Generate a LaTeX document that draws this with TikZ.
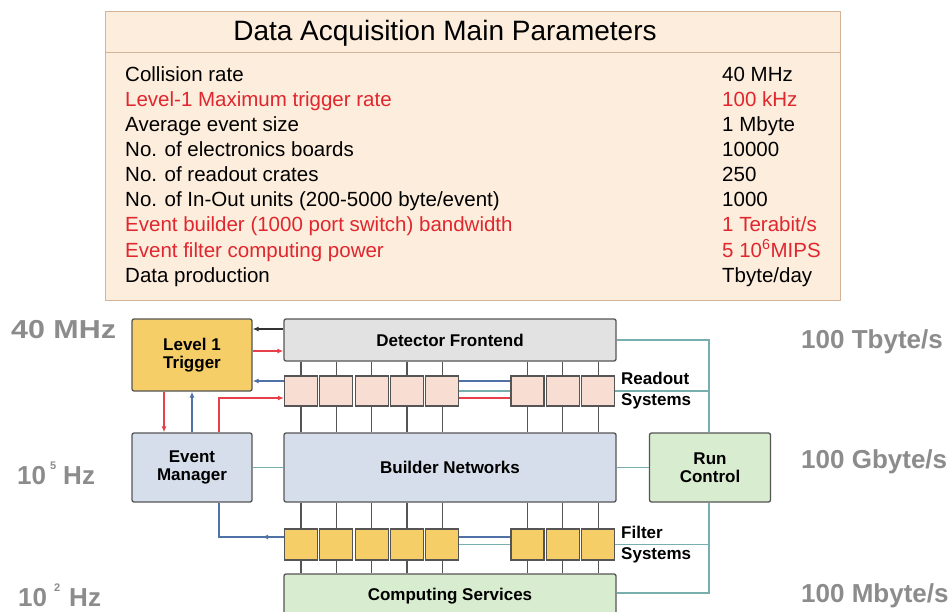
\documentclass[tikz,border=0pt]{standalone}
\usepackage{fontspec}
\setmainfont{Liberation Sans}
\usepackage{xcolor}
\usetikzlibrary{positioning, arrows.meta, decorations.markings}

\definecolor{tabfill}{HTML}{FCEDDC}
\definecolor{tabline}{HTML}{D4B496}
\definecolor{gold}{HTML}{F6CE67}
\definecolor{pinkbox}{HTML}{F8DDD2}
\definecolor{greybox}{HTML}{E2E2E2}
\definecolor{bluebox}{HTML}{D5DEEA}
\definecolor{greenbox}{HTML}{D8ECCF}
\definecolor{boxline}{HTML}{555555}
\definecolor{redline}{HTML}{E8404A}
\definecolor{blueline}{HTML}{4F72A6}
\definecolor{tealline}{HTML}{78AEAE}
\definecolor{ratetext}{HTML}{8C8C8C}
\definecolor{redtext}{HTML}{E0262E}

\newcommand{\expo}[1]{\raisebox{15pt}{\fontsize{11}{11}\selectfont #1}}

\begin{document}
\begin{tikzpicture}[x=1pt, y=-1pt, >={Latex[length=6pt,width=5pt]},
    tab/.style={draw=tabline, fill=tabfill, line width=1pt},
    row/.style={anchor=base west, inner sep=0pt, font=\fontsize{20.5}{22}\selectfont},
    blk/.style={draw=boxline, line width=1.3pt, rounded corners=2pt, align=center,
        inner sep=0pt, font=\fontsize{17}{18}\selectfont\bfseries},
    sbox/.style={draw=boxline, line width=1.1pt, minimum width=33pt, inner sep=0pt},
    side/.style={anchor=west, align=left, inner sep=0pt,
        font=\fontsize{17}{21}\selectfont\bfseries},
    rate/.style={anchor=base west, inner sep=0pt, text=ratetext,
        font=\fontsize{26}{28}\selectfont\bfseries},
    link/.style={draw=boxline, line width=1.2pt},
    teal/.style={draw=tealline, line width=1.2pt},
    redarr/.style={draw=redline, line width=1.2pt},
    bluearr/.style={draw=blueline, line width=1.2pt}]

    \fill[white] (0,0) rectangle (949,612);
    \useasboundingbox (0,0) rectangle (949,612);

    % parameter table
    \node[tab, minimum width=735pt, minimum height=288pt] (tab) at (472.5,156) {};
    \coordinate (hdr) at (0,53);
    \draw[tabline, line width=1pt] (tab.west |- hdr) -- (tab.east |- hdr);
    \node[inner sep=0pt, font=\fontsize{28}{30}\selectfont] (title) at (445,33)
        {Data Acquisition Main Parameters};
    \foreach \lbl/\val/\clr [count=\i from 0] in {
        Collision rate/40 MHz/black,
        Level-1 Maximum trigger rate/100 kHz/redtext,
        Average event size/1 Mbyte/black,
        No. of electronics boards/10000/black,
        No. of readout crates/250/black,
        {No. of In-Out units (200-5000 byte/event)}/1000/black,
        {Event builder (1000 port switch) bandwidth}/{1 Terabit/s}/redtext,
        Event filter computing power/{5 10\textsuperscript{6}MIPS}/redtext,
        Data production/{Tbyte/day}/black}
    {
        \node[row, text=\clr] (p\i) at (125,82+25*\i) {\lbl};
        \node[row, text=\clr] (v\i) at (722,82+25*\i) {\val};
    }

    % main blocks
    \node[blk, fill=gold, minimum width=120pt, minimum height=72pt] (l1) at (192,355) {Level 1\\Trigger};
    \node[blk, fill=bluebox, minimum width=120pt, minimum height=69pt] (em) at (192,467.5) {Event\\Manager};
    \node[blk, fill=greybox, minimum width=332pt, minimum height=42pt] (df) at (450,340) {Detector Frontend};
    \node[blk, fill=bluebox, minimum width=332pt, minimum height=69pt] (bn) at (450,467.5) {Builder Networks};
    \node[blk, fill=greenbox, minimum width=332pt, minimum height=44pt] (cs) at (450,596) {Computing Services};
    \node[blk, fill=greenbox, minimum width=121pt, minimum height=69pt] (rc) at (710,467.5) {Run\\Control};
    \coordinate (bus) at (709,0);

    % readout and filter crates
    \foreach \x [count=\k] in {301,336.3,371.6,406.9,442.2,527.5,562.8,598.1} {
        \node[sbox, fill=pinkbox, minimum height=30pt] (r\k) at (\x,391) {};
        \node[sbox, fill=gold, minimum height=31pt] (f\k) at (\x,544.5) {};
        \draw[link] (df.south -| r\k) -- (r\k.north);
        \draw[link] (r\k.south) -- (bn.north -| r\k);
        \draw[link] (bn.south -| f\k) -- (f\k.north);
        \draw[link] (f\k.south) -- (cs.north -| f\k);
    }
    \node[side] (rolbl) at (621,391) {Readout\\Systems};
    \node[side] (fslbl) at (621,545) {Filter\\Systems};

    % trigger and event manager signals
    \draw[->, draw=black!80, line width=1.2pt] ([yshift=11pt]df.west) -- ([yshift=11pt]df.west -| l1.east);
    \draw[->, redarr] ([yshift=-11pt]df.west -| l1.east) -- ([yshift=-11pt]df.west);
    \draw[->, bluearr] ([yshift=10pt]r1.west) -- ([yshift=10pt]r1.west -| l1.east);
    \draw[bluearr] ([yshift=10pt]r5.east) -- ([yshift=10pt]r6.west);
    \draw[->, redarr] ([xshift=-28pt]l1.south) -- ([xshift=-28pt]em.north);
    \draw[->, bluearr] (em.north) -- (l1.south);
    \draw[->, redarr] ([xshift=27pt]em.north) |- ([yshift=-7pt]r1.west);
    \draw[redarr] ([yshift=-7pt]r5.east) -- ([yshift=-7pt]r6.west);
    \draw[bluearr, postaction={decorate}, decoration={markings,
        mark=at position 0.22 with {\arrow{>}}}]
        ([yshift=7.5pt]f1.west) -| ([xshift=27pt]em.south);
    \draw[bluearr] ([yshift=7.5pt]f5.east) -- ([yshift=7.5pt]f6.west);

    % run control lines
    \draw[teal] (em.east) -- (bn.west);
    \draw[teal] (bn.east) -- (rc.west);
    \draw[teal] (df.east) -| (rc.north -| bus);
    \draw[teal] (rc.south -| bus) |- ([yshift=3pt]cs.east);
    \draw[teal] (r5.east) -- (r6.west);
    \draw[teal] (r8.east) -- (r8.east -| bus);
    \draw[teal] (f5.east) -- (f6.west);
    \draw[teal] (f8.east) -- (f8.east -| bus);

    % rates
    \node[rate] (r40) at (11,338) {\scalebox{1.17}[1]{40 MHz}};
    \node[rate] (r5h) at (17,484) {10\hspace{4pt}\expo{5}\hspace{7pt}Hz};
    \node[rate] (r2h) at (18,606) {10\hspace{7pt}\expo{2}\hspace{9pt}Hz};
    \node[rate] (tbs) at (801,348) {100 Tbyte/s};
    \node[rate] (gbs) at (801,468) {100 Gbyte/s};
    \node[rate] (mbs) at (801,602) {100 Mbyte/s};
\end{tikzpicture}
\end{document}
